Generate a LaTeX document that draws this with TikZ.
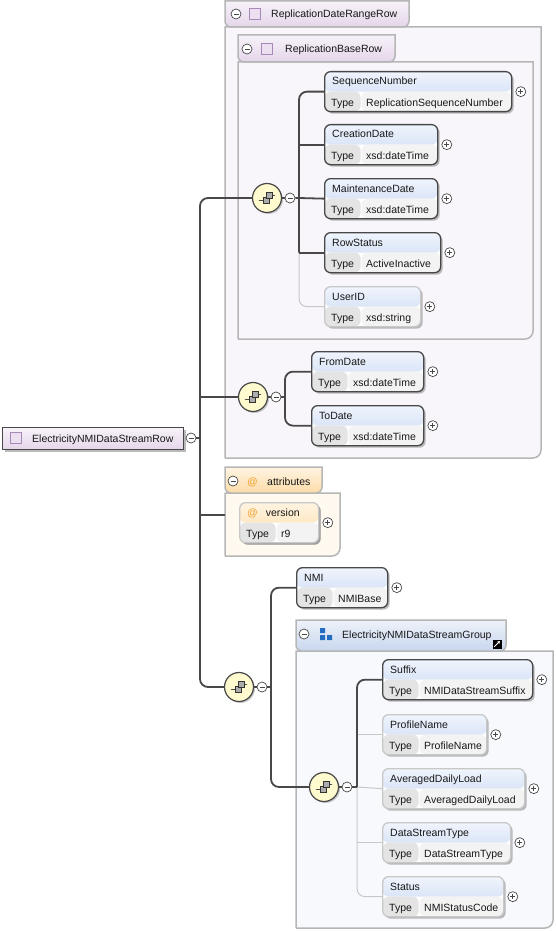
\documentclass[tikz,border=0pt]{standalone}
\usepackage{fontspec}
\setmainfont{Liberation Sans}
\usetikzlibrary{positioning,shadows,arrows.meta}
\definecolor{linedark}{RGB}{72,72,72}
\definecolor{linelight}{RGB}{200,200,200}
\definecolor{framegray}{RGB}{182,182,182}
\definecolor{elemtop}{RGB}{240,245,253}
\definecolor{elembot}{RGB}{196,212,240}
\definecolor{attrtop}{RGB}{255,244,226}
\definecolor{attrbot}{RGB}{252,220,168}
\definecolor{typecell}{RGB}{228,228,228}
\definecolor{valcell}{RGB}{243,243,243}
\definecolor{lilacfill}{RGB}{249,246,251}
\definecolor{lilactop}{RGB}{247,242,249}
\definecolor{lilacbot}{RGB}{228,214,234}
\definecolor{lilacsq}{RGB}{236,224,240}
\definecolor{purplesq}{RGB}{168,136,184}
\definecolor{attrfill}{RGB}{255,249,239}
\definecolor{grpfill}{RGB}{247,249,253}
\definecolor{grptop}{RGB}{238,242,250}
\definecolor{grpbot}{RGB}{200,214,238}
\definecolor{seqyellow}{RGB}{255,251,206}
\definecolor{atorange}{RGB}{240,160,40}
\definecolor{iconblue}{RGB}{36,108,192}
\definecolor{textblack}{RGB}{24,24,24}

% element box: name, x, y, width, title, type, style
\newcommand{\xsdelem}[7]{%
  \node[elembox, #7, minimum width=#4pt, anchor=north west] (#1) at (#2,#3) {};
  \node[lbl, anchor=base west] (#1-name) at ([xshift=8pt,yshift=-14pt]#1.north west) {#5};
  \node[lbl, anchor=base west] (#1-tl) at ([xshift=7pt,yshift=6pt]#1.south west) {Type};
  \node[lbl, anchor=base west] (#1-ty) at ([xshift=42pt,yshift=6pt]#1.south west) {#6};
  \node[plus] (#1-plus) at ([xshift=8.5pt]#1.east) {};
}

\begin{document}
\begin{tikzpicture}[
    x=1pt, y=-1pt,
    lbl/.style={font=\fontsize{10.5}{12}\selectfont, inner sep=0pt, text=textblack},
    elembox/.style={rectangle, rounded corners=6pt, minimum height=40pt, inner sep=0pt, fill=white, line width=1.3pt,
        drop shadow={shadow xshift=2pt, shadow yshift=-2pt, fill=black!45, opacity=0.6},
        path picture={
            \shade[top color=#1top, bottom color=#1bot] (path picture bounding box.north west) rectangle ([yshift=-20pt]path picture bounding box.north east);
            \fill[typecell] ([yshift=-20pt]path picture bounding box.north west) rectangle ([xshift=36pt]path picture bounding box.south west);
            \fill[valcell] ([xshift=37pt,yshift=-20pt]path picture bounding box.north west) rectangle (path picture bounding box.south east);
        }},
    elembox/.default=elem,
    req/.style={draw=linedark},
    opt/.style={draw=linelight},
    frame/.style={draw=framegray, line width=1.5pt},
    conn/.style={draw=linedark, line width=1.8pt},
    connlt/.style={draw=linelight, line width=1pt},
    minus/.style={circle, minimum size=10pt, inner sep=0pt, draw=linedark, fill=white, line width=0.7pt,
        path picture={\draw[line width=0.8pt] ([xshift=-2.5pt]path picture bounding box.center) -- ([xshift=2.5pt]path picture bounding box.center);}},
    plus/.style={circle, minimum size=10pt, inner sep=0pt, draw=linedark, fill=white, line width=0.7pt,
        path picture={\draw[line width=0.8pt] ([xshift=-2.5pt]path picture bounding box.center) -- ([xshift=2.5pt]path picture bounding box.center)
            ([yshift=-2.5pt]path picture bounding box.center) -- ([yshift=2.5pt]path picture bounding box.center);}},
    sqicon/.style={rectangle, minimum size=11pt, inner sep=0pt, fill=lilacsq, draw=purplesq, line width=0.8pt},
    seq/.style={circle, minimum size=29pt, inner sep=0pt, fill=seqyellow, draw=linedark, line width=1.2pt,
        drop shadow={shadow xshift=1.5pt, shadow yshift=-1.5pt, fill=black!40, opacity=0.5},
        path picture={\begin{scope}[shift={(path picture bounding box.center)}]
            \draw[line width=0.8pt] (-9,2) -- (-4,2) (2,-3) -- (9,-3);
            \fill (-9,2) circle (1.3) (9,-3) circle (1.3);
            \filldraw[fill=gray!65, draw=black!80, line width=0.6pt] (-4,-1) rectangle (2,5);
            \filldraw[fill=gray!65, draw=black!80, line width=0.6pt] (-1,-6) rectangle (5,0);
        \end{scope}}}
]
\useasboundingbox (0,0) rectangle (556,931);
\fill[white] (0,0) rectangle (556,931);

% group frames
\filldraw[frame, fill=lilacfill] (225,458) -- (225,27) -- (541,27) [rounded corners=8pt] -- (541,458) -- (225,458);
\draw[frame, top color=lilactop, bottom color=lilacbot] (225,27) -- (225,1) -- (409,1) [rounded corners=6pt] -- (409,27) -- cycle;
\filldraw[frame, fill=lilacfill] (238,339) -- (238,62) -- (533,62) [rounded corners=8pt] -- (533,339) -- (238,339);
\draw[frame, top color=lilactop, bottom color=lilacbot] (238,62) -- (238,35) -- (395,35) [rounded corners=6pt] -- (395,62) -- cycle;
\filldraw[frame, fill=attrfill] (225,556) -- (225,493) -- (340,493) [rounded corners=8pt] -- (340,556) -- (225,556);
\draw[frame, top color=attrtop, bottom color=attrbot] (225,493) -- (225,467) -- (322,467) [rounded corners=6pt] -- (322,493) -- cycle;
\filldraw[frame, fill=grpfill] (296,928) -- (296,651) -- (553,651) [rounded corners=8pt] -- (553,928) -- (296,928);
\draw[frame, top color=grptop, bottom color=grpbot] (296,651) -- (296,620) -- (506,620) [rounded corners=6pt] -- (506,651) -- cycle;

% group headers
\node[minus] (gA-m) at (236,14) {};
\node[sqicon] (gA-i) at (255,14) {};
\node[lbl, anchor=base west] (gA) at (271,18) {ReplicationDateRangeRow};
\node[minus] (gB-m) at (247,49) {};
\node[sqicon] (gB-i) at (267,49) {};
\node[lbl, anchor=base west] (gB) at (285,53) {ReplicationBaseRow};
\node[minus] (at-m) at (233,481) {};
\node[lbl, anchor=base west, text=atorange] (at-i) at (247,485) {@};
\node[lbl, anchor=base west] (at) at (267,485) {attributes};
\node[minus] (gC-m) at (304,634) {};
\fill[iconblue] (320,628) rectangle (325,633) (320,635) rectangle (325,640) (327,635) rectangle (332,640);
\node[lbl, anchor=base west] (gC) at (342,638) {ElectricityNMIDataStreamGroup};
\node[fill=black, minimum size=9pt, inner sep=0pt] (lnk) at (497,644) {};
\draw[white, line width=1pt, -{Stealth[length=3pt,width=3.5pt]}] ([shift={(-2.8pt,-2.8pt)}]lnk.center) -- ([shift={(3pt,3pt)}]lnk.center);

% root element
\node[rectangle, draw=linedark, line width=1.2pt, top color=lilactop, bottom color=lilacbot, minimum width=181pt, minimum height=22pt, anchor=north west,
    drop shadow={shadow xshift=2pt, shadow yshift=-2pt, fill=black!45, opacity=0.6}] (root) at (2,427) {};
\node[sqicon] (root-i) at (16,438) {};
\node[lbl, anchor=base west] (root-name) at (32,442) {ElectricityNMIDataStreamRow};
\node[minus] (m0) at (191,438) {};

% compositors
\node[seq] (c1) at (267,198) {};
\node[minus] (m1) at (290,198) {};
\node[seq] (c2) at (253,397) {};
\node[minus] (m2) at (276,397) {};
\node[seq] (c3) at (239,687) {};
\node[minus] (m3) at (262,687) {};
\node[seq] (c4) at (324,787) {};
\node[minus] (m4) at (347,787) {};

\coordinate (trunk) at (200,438);
\coordinate (atb) at (225,515);
\coordinate (v1) at (299,198);
\coordinate (v2) at (285,397);
\coordinate (v3) at (271,687);
\coordinate (v4) at (357,787);

% elements
\xsdelem{seqnum}{324}{71}{187}{SequenceNumber}{ReplicationSequenceNumber}{req}
\xsdelem{creation}{324}{124}{113}{CreationDate}{xsd:dateTime}{req}
\xsdelem{maint}{324}{178}{113}{MaintenanceDate}{xsd:dateTime}{req}
\xsdelem{rowstatus}{324}{232}{116}{RowStatus}{ActiveInactive}{req}
\xsdelem{userid}{324}{286}{96}{UserID}{xsd:string}{opt}
\xsdelem{fromdate}{311}{351}{112}{FromDate}{xsd:dateTime}{req}
\xsdelem{todate}{311}{405}{112}{ToDate}{xsd:dateTime}{req}
\xsdelem{version}{239}{502}{79}{\textcolor{atorange}{@}\hspace{8pt}version}{r9}{opt, elembox=attr}
\xsdelem{nmi}{296}{567}{91}{NMI}{NMIBase}{req}
\xsdelem{suffix}{382}{659}{150}{Suffix}{NMIDataStreamSuffix}{req}
\xsdelem{profile}{382}{714}{104}{ProfileName}{ProfileName}{opt}
\xsdelem{adl}{382}{768}{142}{AveragedDailyLoad}{AveragedDailyLoad}{opt}
\xsdelem{dst}{382}{822}{128}{DataStreamType}{DataStreamType}{opt}
\xsdelem{status}{382}{876}{121}{Status}{NMIStatusCode}{opt}

% connectors
\draw[conn] (m0) -- (trunk);
\draw[conn, rounded corners=8pt] (c1.west) -| (trunk) |- (c3.west);
\draw[conn] (trunk |- c2.west) -- (c2.west);
\draw[conn] (trunk |- atb) -- (atb);

\draw[conn] (c1) -- (m1);
\draw[connlt, rounded corners=8pt] (v1 |- rowstatus.west) |- (userid.west);
\draw[conn] (m1) -- (v1) -- (maint.west);
\draw[conn] (v1 |- creation.west) -- (creation.west);
\draw[conn] (v1 |- rowstatus.west) -- (rowstatus.west);
\draw[conn, rounded corners=8pt] (v1 |- rowstatus.west) |- (seqnum.west);

\draw[conn] (c2) -- (m2);
\draw[conn] (m2) -- (v2);
\draw[conn, rounded corners=8pt] (fromdate.west) -| (v2) |- (todate.west);

\draw[conn] (c3) -- (m3);
\draw[conn] (m3) -- (v3);
\draw[conn, rounded corners=8pt] (nmi.west) -| (v3) |- (c4.west);

\draw[conn] (c4) -- (m4);
\draw[connlt, rounded corners=8pt] (v4) |- (status.west);
\draw[connlt] (v4 |- profile.west) -- (profile.west);
\draw[connlt] (v4) -- (adl.west);
\draw[connlt] (v4 |- dst.west) -- (dst.west);
\draw[conn] (m4) -- (v4);
\draw[conn, rounded corners=8pt] (v4) |- (suffix.west);
\end{tikzpicture}
\end{document}
